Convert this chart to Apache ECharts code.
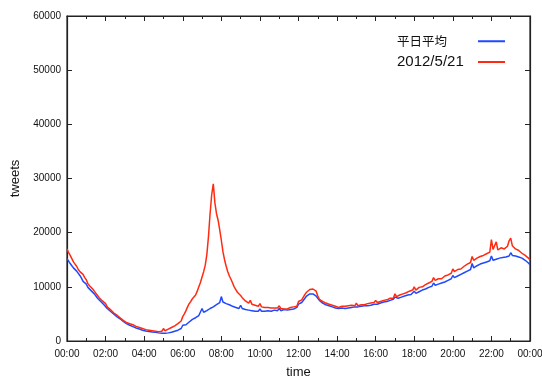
<!DOCTYPE html>
<html>
<head>
<meta charset="utf-8">
<script src="https://cdn.jsdelivr.net/npm/echarts@6/dist/echarts.min.js"></script>
<style>
  html, body { margin: 0; padding: 0; background: #fff; }
  #chart { width: 542px; height: 381px; }
</style>
</head>
<body>
<div id="chart"></div>
<script>
// Tweets per 5-minute step over one day (00:00 .. 24:00, 289 samples, one row per hour)
const stepMinutes = 5;

const seriesNames = ['平日平均', '2012/5/21'];

// weekday average
const weekdayAvg = [
  15200, 14900, 14300, 13900, 13500, 13300, 12900, 12600, 12100, 11600, 11000, 10700,
  10500, 9900, 9600, 9300, 9000, 8700, 8300, 7900, 7600, 7300, 7000, 6700,
  6500, 6000, 5800, 5500, 5200, 5000, 4800, 4500, 4300, 4100, 3900, 3600,
  3500, 3200, 3000, 2900, 2800, 2650, 2500, 2400, 2300, 2200, 2100, 2000,
  2000, 1850, 1800, 1750, 1700, 1650, 1600, 1600, 1550, 1500, 1500, 1450,
  1600, 1450, 1450, 1500, 1550, 1600, 1700, 1800, 1900, 2000, 2100, 2300,
  2900, 2700, 3000, 3300, 3500, 3800, 4000, 4200, 4300, 4500, 4700, 4900,
  6000, 5300, 5500, 5600, 5800, 6000, 6100, 6300, 6500, 6700, 6900, 7100,
  8200, 7200, 7000, 6900, 6800, 6700, 6500, 6400, 6300, 6200, 6100, 6000,
  6600, 6000, 5900, 5800, 5700, 5700, 5600, 5600, 5600, 5500, 5500, 5500,
  5900, 5500, 5600, 5500, 5500, 5600, 5600, 5500, 5600, 5700, 5600, 5600,
  6000, 5600, 5700, 5800, 5700, 5700, 5800, 5800, 5900, 5900, 6000, 6200,
  6800, 6700, 7100, 7400, 7900, 8300, 8600, 8700, 8800, 8700, 8600, 8300,
  7900, 7500, 7200, 7000, 6800, 6700, 6500, 6500, 6300, 6300, 6200, 6100,
  6400, 6000, 6000, 6100, 6100, 6000, 6200, 6100, 6100, 6200, 6200, 6300,
  6600, 6300, 6300, 6400, 6400, 6500, 6500, 6500, 6600, 6600, 6700, 6800,
  7100, 6800, 6900, 7000, 7100, 7200, 7300, 7300, 7400, 7500, 7600, 7700,
  8100, 7800, 7900, 8000, 8100, 8200, 8300, 8400, 8500, 8500, 8600, 8700,
  9200, 8800, 8900, 9100, 9200, 9400, 9500, 9600, 9800, 9900, 10000, 10100,
  10700, 10300, 10400, 10500, 10600, 10700, 10800, 10900, 11000, 11200, 11300, 11500,
  12100, 11700, 11900, 12000, 12200, 12300, 12500, 12600, 12800, 12900, 13100, 13200,
  14300, 13500, 13700, 13900, 14000, 14200, 14300, 14400, 14500, 14600, 14700, 14800,
  15700, 14900, 15000, 15100, 15200, 15300, 15300, 15400, 15500, 15500, 15600, 15700,
  16300, 15800, 15800, 15700, 15600, 15500, 15400, 15300, 15100, 14900, 14700, 14400,
  14100
];

// 2012/5/21
const may21 = [
  17000, 16300, 15800, 15200, 14600, 14200, 13800, 13200, 12800, 12600, 12300, 11700,
  11300, 10600, 10200, 9900, 9600, 9200, 8800, 8400, 8000, 7700, 7400, 7100,
  6900, 6300, 6000, 5800, 5500, 5200, 5000, 4800, 4600, 4300, 4100, 3800,
  3700, 3400, 3300, 3200, 3100, 3000, 2900, 2700, 2600, 2500, 2400, 2300,
  2300, 2100, 2000, 2000, 1900, 1900, 1800, 1800, 1800, 1700, 1700, 1800,
  2300, 1900, 2100, 2200, 2300, 2500, 2700, 2800, 3000, 3200, 3400, 3700,
  4500, 5000, 5600, 6300, 6900, 7300, 7800, 8100, 8500, 9200, 10000, 10800,
  11800, 12800, 14000, 16000, 19300, 23500, 27000, 29000, 25500, 23500, 22300, 20500,
  18600, 16500, 15000, 13800, 12800, 12000, 11400, 10700, 10000, 9500, 9000, 8700,
  8400, 8000, 7700, 7400, 7200, 7000, 7500, 6800, 6700, 6600, 6500, 6400,
  6900, 6300, 6300, 6200, 6400, 6200, 6100, 6100, 6000, 6100, 6000, 6100,
  6500, 6000, 6200, 5900, 6100, 5900, 6000, 6200, 6100, 6300, 6200, 6400,
  7300, 7100, 7600, 7800, 8600, 9000, 9300, 9500, 9700, 9600, 9500, 9200,
  8300, 7700, 7400, 7300, 7100, 7000, 6900, 6800, 6600, 6600, 6500, 6400,
  6700, 6200, 6300, 6400, 6500, 6400, 6300, 6500, 6400, 6600, 6700, 6500,
  7000, 6500, 6600, 6700, 6800, 6700, 6800, 6900, 6900, 7000, 7100, 7100,
  7500, 7100, 7200, 7300, 7400, 7500, 7700, 7600, 7800, 7900, 8000, 7900,
  8700, 8200, 8400, 8500, 8600, 8700, 9000, 8900, 9100, 9200, 9300, 9400,
  10000, 9400, 9600, 9900, 10100, 10000, 10300, 10400, 10600, 10700, 10900, 11000,
  11700, 11200, 11300, 11500, 11600, 11500, 11800, 12000, 12100, 12200, 12400, 12500,
  13300, 12800, 13000, 13200, 13400, 13300, 13600, 13800, 14000, 14200, 14400, 14500,
  15600, 14900, 15100, 15300, 15500, 15600, 15700, 15800, 16000, 16100, 16300, 16400,
  18700, 16900, 17200, 18300, 16800, 17000, 17200, 17100, 17000, 17300, 17500, 18500,
  19000, 17600, 17300, 17000, 16900, 16700, 16500, 16200, 16000, 15800, 15600, 15300,
  15000
];

const seriesColors = ['#1f48ff', '#ff2a10'];

function toPairs(values) {
  return values.map((v, i) => [i * stepMinutes, v]);
}

function fmtTime(m) {
  const h = Math.floor(m / 60) % 24;
  const mm = m % 60;
  return String(h).padStart(2, '0') + ':' + String(mm).padStart(2, '0');
}

const axisColor = '#222';
const sansFont = 'Liberation Sans, Arial, sans-serif';
const labelFont = { color: '#111', fontSize: 10, fontFamily: sansFont };

const chart = echarts.init(document.getElementById('chart'), null, { renderer: 'canvas' });

const xBase = {
  type: 'value', min: 0, max: 1440, interval: 120,
  axisLine: { show: true, onZero: false, lineStyle: { color: axisColor, width: 1.2 } },
  axisTick: { show: true, inside: true, length: 5, lineStyle: { color: axisColor, width: 1 } },
  minorTick: { show: true, splitNumber: 2, length: 3, lineStyle: { color: axisColor, width: 1 } },
  splitLine: { show: false }
};
const yBase = {
  type: 'value', min: 0, max: 60000, interval: 10000,
  axisLine: { show: true, onZero: false, lineStyle: { color: axisColor, width: 1.2 } },
  axisTick: { show: true, inside: true, length: 5, lineStyle: { color: axisColor, width: 1 } },
  splitLine: { show: false }
};

chart.setOption({
  animation: false,
  backgroundColor: '#fff',
  grid: {
    left: 67, right: 12, top: 16, bottom: 40,
    outerBoundsMode: 'none', containLabel: false,
    show: true, borderColor: axisColor, borderWidth: 1.2, backgroundColor: 'transparent'
  },
  legend: {
    left: 392, top: 30,
    orient: 'vertical',
    align: 'right',
    icon: 'rect',
    itemWidth: 27, itemHeight: 2,
    itemGap: 7,
    formatter: name => /^[0-9\/]+$/.test(name) ? '{num|' + name + '}' : '{cjk|' + name + '}',
    textStyle: {
      color: '#111',
      rich: {
        num: { fontSize: 15, fontFamily: sansFont, color: '#111', height: 19, width: 76, align: 'left' },
        cjk: { fontSize: 12.5, fontFamily: '"Noto Sans CJK JP", sans-serif', color: '#111', height: 19, width: 76, align: 'left' }
      }
    },
    data: seriesNames
  },
  xAxis: [
    Object.assign({}, xBase, {
      position: 'bottom',
      name: 'time', nameLocation: 'middle', nameGap: 25,
      nameTextStyle: { color: '#111', fontSize: 13, fontFamily: sansFont },
      axisLabel: Object.assign({ margin: 8, formatter: v => fmtTime(v) }, labelFont)
    }),
    Object.assign({}, xBase, { position: 'top', axisLabel: { show: false } })
  ],
  yAxis: [
    Object.assign({}, yBase, {
      position: 'left',
      name: 'tweets', nameLocation: 'middle', nameGap: 39, nameRotate: 90,
      nameTextStyle: { color: '#111', fontSize: 13, fontFamily: sansFont },
      axisLabel: Object.assign({ margin: 6, formatter: v => String(v) }, labelFont)
    }),
    Object.assign({}, yBase, { position: 'right', axisLabel: { show: false } })
  ],
  series: [
    {
      name: seriesNames[0], type: 'line', xAxisIndex: 0, yAxisIndex: 0,
      data: toPairs(weekdayAvg), showSymbol: false, symbol: 'none',
      lineStyle: { color: seriesColors[0], width: 1.5 }, itemStyle: { color: seriesColors[0] }
    },
    {
      name: seriesNames[1], type: 'line', xAxisIndex: 0, yAxisIndex: 0,
      data: toPairs(may21), showSymbol: false, symbol: 'none',
      lineStyle: { color: seriesColors[1], width: 1.5 }, itemStyle: { color: seriesColors[1] }
    }
  ]
});
</script>
</body>
</html>
